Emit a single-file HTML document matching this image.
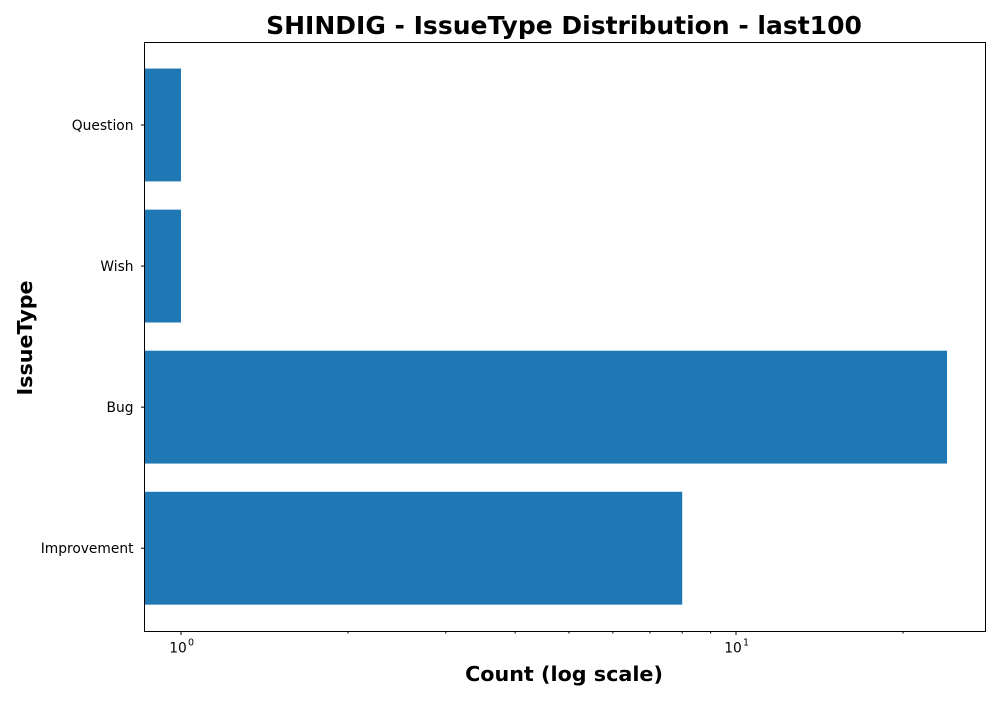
<!DOCTYPE html>
<html><head><meta charset="utf-8"><style>
body{margin:0;background:#fff;font-family:"Liberation Sans","DejaVu Sans",sans-serif}
svg text{font-family:"DejaVu Sans","Liberation Sans",sans-serif}
</style></head><body>
<svg id="chart" width="1000" height="700" xmlns="http://www.w3.org/2000/svg">
<text x="564" y="34" text-anchor="middle" font-size="25" font-weight="bold">SHINDIG - IssueType Distribution - last100</text>
<text x="564" y="681" text-anchor="middle" font-size="20.7" font-weight="bold">Count (log scale)</text>
<text transform="translate(32,338) rotate(-90)" text-anchor="middle" font-size="20.7" font-weight="bold">IssueType</text>
<g id="bars"></g><g id="ticks"></g>
<rect x="144.5" y="42.5" width="841" height="589" fill="none" stroke="#000" stroke-width="1"/>
</svg>
<script>
const categories=["Improvement","Bug","Wish","Question"];
const counts=[8,24,1,1];
const majorTicks=[1,10];
const minorTicks=[2,3,4,5,6,7,8,9,20];
const L=144.5,R=985.5,T=42.5,B=631.5;
const x0=181,dec=555;
function xs(v){return x0+Math.log10(v)*dec;}
const band=(B-T)/4.175, padTop=(B-T-band*4)/2;
function yc(i){return B-padTop-band*(i+0.5)-0.4;}
const NS="http://www.w3.org/2000/svg";
const gb=document.getElementById('bars'),gt=document.getElementById('ticks');
function mk(tag,attrs,parent){const e=document.createElementNS(NS,tag);for(const k in attrs)e.setAttribute(k,attrs[k]);parent.appendChild(e);return e;}
categories.forEach((c,i)=>{
 const h=band*0.8;
 const r=mk('rect',{x:L,y:yc(i)-h/2,width:xs(counts[i])-L,height:h,fill:'#1f77b4'},gb);
 
 
 mk('line',{x1:L-3.5,x2:L,y1:yc(i),y2:yc(i),stroke:'#000'},gt);
 const t=mk('text',{x:L-11,y:yc(i)+5,'text-anchor':'end','font-size':13.8},gt);
 t.textContent=c;
 
 
});
majorTicks.forEach(v=>{
 const x=xs(v);
 mk('line',{x1:x,x2:x,y1:B,y2:B+3.5,stroke:'#000'},gt);
 const t=mk('text',{x:x-3,y:B+21,'text-anchor':'middle','font-size':13.8},gt);
 t.textContent='10';
 
 
 const s=mk('text',{x:x+7,y:B+14,'font-size':9.5},gt);
 s.textContent=String(Math.round(Math.log10(v)));
});
minorTicks.forEach(v=>{const x=xs(v);if(x<R)mk('line',{x1:x,x2:x,y1:B,y2:B+2,stroke:'#000'},gt);});
</script>
</body></html>
